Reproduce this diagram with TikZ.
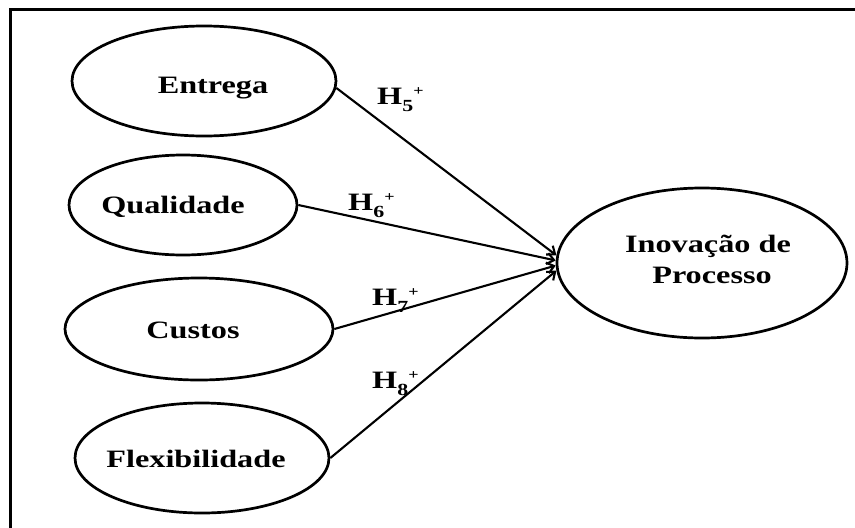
\documentclass[tikz,border=0pt]{standalone}
\usepackage{fontspec}
\setmainfont{Liberation Serif}
\newfontfamily\lblfont[FakeStretch=1.29]{Liberation Serif}
\usetikzlibrary{shapes.geometric,arrows.meta}

% hypothesis label: H with a lowered index and a raised plus sign
\newcommand\hypo[1]{H\raisebox{-7pt}{\fontsize{17}{17}\selectfont #1}\raisebox{8.5pt}{\fontsize{14}{14}\selectfont +}}

\begin{document}
\begin{tikzpicture}[x=1pt,y=-1pt,
  construct/.style={draw, ellipse, line width=2.7pt, inner sep=0pt},
  lbl/.style={font=\lblfont\bfseries\fontsize{25}{30}\selectfont, anchor=base, inner sep=0pt},
  hyp/.style={font=\lblfont\bfseries\fontsize{25}{30}\selectfont, anchor=base west, inner sep=0pt},
  link/.style={line width=2.1pt, -{Straight Barb[length=7pt,width=11pt]}}
]
\useasboundingbox (0,0) rectangle (855,528);

% frame (top and left edges)
\draw[line width=3pt] (855,9.5) -- (10.5,9.5) -- (10.5,528);

% constructs
\node[construct, minimum width=264, minimum height=110] (entrega)   at (204,81)  {};
\node[construct, minimum width=228, minimum height=100] (qualidade) at (183,205) {};
\node[construct, minimum width=268, minimum height=102] (custos)    at (199,329) {};
\node[construct, minimum width=254, minimum height=110] (flex)      at (202,458) {};
\node[construct, minimum width=290, minimum height=150] (inovacao)  at (702,263) {};

% construct names
\node[lbl] (tentrega)   at (213,93)  {Entrega};
\node[lbl] (tqualidade) at (173,213) {Qualidade};
\node[lbl] (tcustos)    at (193,338) {Custos};
\node[lbl] (tflex)      at (196,467.5) {Flexibilidade};
\node[lbl] (tinov1)     at (708,252) {Inovação de};
\node[lbl] (tinov2)     at (712,283) {Processo};

% hypothesised paths
\draw[link] (entrega.-3.5)  -- (inovacao.177);
\draw[link] (qualidade.east) -- (inovacao.179);
\draw[link] (custos.east)    -- (inovacao.181.5);
\draw[link] (flex.east)      -- (inovacao.183.5);

% hypothesis labels
\node[hyp] (h5) at (377,104) {\hypo{5}};
\node[hyp] (h6) at (348,210) {\hypo{6}};
\node[hyp] (h7) at (372,305) {\hypo{7}};
\node[hyp] (h8) at (372,388) {\hypo{8}};
\end{tikzpicture}
\end{document}
